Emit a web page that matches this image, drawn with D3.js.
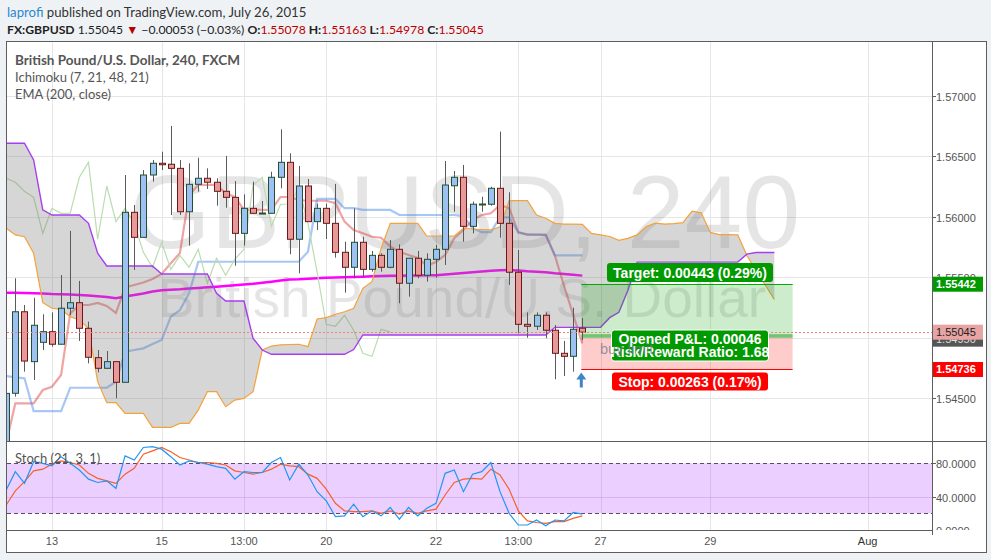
<!DOCTYPE html>
<html><head><meta charset="utf-8">
<script src="https://cdn.jsdelivr.net/npm/d3@7"></script>
<style>body{margin:0;background:#eff2f5;}svg{display:block}</style>
</head><body><svg id="c" width="991" height="560"></svg>
<script>
// ---------- DATA ----------
const opens=[1.54110,1.54539,1.55214,1.54801,1.54961,1.55049,1.54945,1.55243,1.55289,1.55077,1.54834,1.54746,1.54801,1.54630,1.56037,1.55830,1.56346,1.56443,1.56435,1.56401,1.56042,1.56269,1.56319,1.56286,1.56211,1.56161,1.55863,1.56070,1.56027,1.56029,1.56327,1.56451,1.55814,1.56255,1.55960,1.56070,1.55946,1.55706,1.55582,1.55789,1.55565,1.55681,1.55582,1.55731,1.55450,1.55657,1.55516,1.55648,1.55731,1.56257,1.56327,1.55921,1.56102,1.56104,1.56236,1.55946,1.55541,1.55110,1.55094,1.55185,1.55061,1.54870,1.54845,1.55078];
const highs=[1.54538,1.55491,1.55270,1.55330,1.55193,1.55209,1.55518,1.55883,1.55469,1.55132,1.54897,1.54889,1.54801,1.56346,1.56098,1.56387,1.56470,1.56539,1.56752,1.56470,1.56443,1.56489,1.56401,1.56319,1.56503,1.56296,1.56186,1.56291,1.56131,1.56373,1.56724,1.56526,1.56421,1.56313,1.56109,1.56109,1.56272,1.55794,1.56070,1.55835,1.55717,1.55698,1.55808,1.55772,1.55657,1.55717,1.55698,1.55767,1.56462,1.56379,1.56429,1.56125,1.56166,1.56249,1.56705,1.56203,1.55725,1.55209,1.55209,1.55209,1.55104,1.54972,1.55248,1.55163];
const lows=[1.54085,1.54511,1.54718,1.54649,1.54897,1.54925,1.54945,1.55187,1.54972,1.54787,1.54713,1.54746,1.54498,1.54630,1.55560,1.55830,1.56291,1.56387,1.56015,1.56015,1.55761,1.56208,1.56230,1.56092,1.56075,1.55595,1.55761,1.56029,1.56027,1.56029,1.56236,1.55690,1.55532,1.55960,1.55891,1.55816,1.55662,1.55372,1.55491,1.55502,1.55546,1.55546,1.55574,1.55284,1.55339,1.55491,1.55463,1.55496,1.55601,1.56042,1.55794,1.55863,1.56042,1.56092,1.55827,1.55436,1.55036,1.54999,1.55063,1.54994,1.54655,1.54682,1.54718,1.54978];
const closes=[1.54538,1.55214,1.54806,1.55102,1.55049,1.54945,1.55243,1.55289,1.55077,1.54837,1.54746,1.54801,1.54630,1.56037,1.55830,1.56346,1.56443,1.56431,1.56401,1.56042,1.56269,1.56319,1.56286,1.56211,1.56161,1.55863,1.56070,1.56029,1.56031,1.56327,1.56451,1.55814,1.56255,1.55960,1.56070,1.55946,1.55706,1.55582,1.55789,1.55565,1.55681,1.55582,1.55731,1.55450,1.55657,1.55516,1.55648,1.55731,1.56263,1.56327,1.55921,1.56104,1.56106,1.56236,1.55946,1.55541,1.55110,1.55094,1.55185,1.55061,1.54870,1.54845,1.55069,1.55045];
const conversionLine=[1.54127,1.54456,1.54456,1.54456,1.54566,1.54593,1.54690,1.55201,1.55270,1.55270,1.55287,1.55262,1.55204,1.55415,1.55435,1.55456,1.55485,1.55527,1.55615,1.55700,1.56181,1.56264,1.56264,1.56264,1.56195,1.56164,1.56057,1.56057,1.56057,1.56057,1.56164,1.56164,1.56139,1.56133,1.56133,1.56133,1.56112,1.55960,1.55891,1.55864,1.55835,1.55827,1.55753,1.55711,1.55684,1.55659,1.55595,1.55626,1.55684,1.55822,1.55891,1.55974,1.56015,1.56029,1.56098,1.56071,1.55871,1.55852,1.55852,1.55850,1.55680,1.55429,1.55190,1.54952];
const baseLine=[1.54682,1.54671,1.54663,1.54392,1.54392,1.54392,1.54392,1.54585,1.54585,1.54585,1.54585,1.54585,1.54635,1.54883,1.54897,1.54911,1.54947,1.54980,1.55173,1.55228,1.55367,1.55628,1.55628,1.55628,1.55628,1.55628,1.55628,1.55628,1.55628,1.55628,1.55628,1.55628,1.55628,1.55711,1.56148,1.56148,1.56148,1.56071,1.56071,1.56057,1.56057,1.56057,1.56057,1.56015,1.56015,1.56015,1.56015,1.56015,1.56015,1.56015,1.56004,1.55905,1.55873,1.55873,1.55995,1.55995,1.55871,1.55852,1.55852,1.55850,1.55680,1.55680,1.55680,1.55680];
const leadLineA=[1.55905,1.55850,1.55835,1.55698,1.55289,1.55243,1.55234,1.55173,1.55146,1.55077,1.54635,1.54461,1.54461,1.54373,1.54373,1.54373,1.54257,1.54257,1.54257,1.54290,1.54290,1.54400,1.54552,1.54552,1.54428,1.54483,1.54497,1.54552,1.54897,1.54930,1.54939,1.54943,1.54945,1.54925,1.55154,1.55165,1.55193,1.55214,1.55243,1.55408,1.55463,1.55739,1.55946,1.55946,1.55946,1.55946,1.55841,1.55841,1.55841,1.55841,1.55905,1.55899,1.55895,1.55891,1.55918,1.56134,1.56134,1.56134,1.56015,1.55988,1.55946,1.55940,1.55940,1.55938,1.55863,1.55850,1.55837,1.55805,1.55821,1.55850,1.55919,1.55948,1.55940,1.55944,1.55951,1.56047,1.56033,1.55871,1.55852,1.55852,1.55850,1.55680,1.55555,1.55435,1.55316];
const leadLineB=[1.56609,1.56609,1.56609,1.56471,1.56057,1.56015,1.56015,1.56015,1.56015,1.55946,1.55698,1.55593,1.55593,1.55593,1.55593,1.55593,1.55593,1.55527,1.55527,1.55527,1.55527,1.55527,1.55527,1.55367,1.55303,1.55303,1.55303,1.54994,1.54897,1.54862,1.54862,1.54862,1.54862,1.54862,1.54862,1.54862,1.54862,1.54862,1.54901,1.55022,1.55022,1.55022,1.55022,1.55022,1.55022,1.55022,1.55022,1.55022,1.55022,1.55022,1.55022,1.55022,1.55022,1.55022,1.55022,1.55022,1.55022,1.55022,1.55022,1.55022,1.55085,1.55085,1.55085,1.55085,1.55085,1.55085,1.55165,1.55210,1.55394,1.55625,1.55625,1.55625,1.55625,1.55625,1.55625,1.55625,1.55625,1.55625,1.55625,1.55625,1.55625,1.55691,1.55704,1.55704,1.55704];
const ema200=[1.55372,1.55371,1.55369,1.55368,1.55365,1.55361,1.55359,1.55356,1.55353,1.55349,1.55343,1.55336,1.55325,1.55340,1.55353,1.55365,1.55382,1.55392,1.55396,1.55400,1.55407,1.55411,1.55416,1.55421,1.55427,1.55433,1.55439,1.55445,1.55454,1.55463,1.55473,1.55481,1.55483,1.55487,1.55491,1.55496,1.55498,1.55500,1.55502,1.55504,1.55507,1.55510,1.55513,1.55513,1.55514,1.55515,1.55516,1.55516,1.55522,1.55528,1.55535,1.55541,1.55547,1.55553,1.55558,1.55560,1.55556,1.55550,1.55546,1.55541,1.55533,1.55527,1.55520,1.55513];
const stochK=[48,70,56,82,80,77,88,80,72,61,57,59,50,89,84,99,100,97,88,78,83,81,79,76,74,61,70,69,69,81,87,60,79,66,46,35,16,17,31,16,23,17,27,13,27,17,26,32,68,72,46,67,70,81,46,20,6,6,12,5,12,11,21,19];
const stochD=[30,47,58,71,73,79,83,81,78,68,62,59,56,67,74,91,95,99,94,87,84,81,81,80,78,71,69,67,69,73,79,77,76,67,62,49,32,23,22,22,23,20,23,19,23,20,23,25,42,57,61,62,61,73,66,49,23,11,9,8,10,10,14,17];
const laggingSpan=closes.slice(21); // close plotted 21 bars back
const priceTicks=[1.545,1.55,1.555,1.56,1.565,1.57];
const stochTicks=[0,40,80];
const timeLabels=["13","15","13:00","20","22","13:00","27","29","Aug"];
const timeBars=[5,17,26,35,47,56,65,77,94.2];
const position={startBar:63,endBar:86,entry:1.54999,target:1.55442,stop:1.54736,last:1.55045};

// ---------- SETUP ----------
const svg=d3.select('#c');
const FONT="Lato, 'Liberation Sans', sans-serif";
const AX="'Liberation Sans', Arial, sans-serif";
const x=d3.scaleLinear().domain([0,63]).range([6.2,582.3]);
const y=d3.scaleLinear().domain([1.545,1.57]).range([398,96]);
const ys=d3.scaleLinear().domain([0,80]).range([530,463.33]);
const L=7,R=932,T=42,MB=441,SB=530;

svg.append('rect').attr('width',991).attr('height',560).attr('fill','#eff2f5');
svg.append('rect').attr('x',6).attr('y',41).attr('width',981).attr('height',512).attr('fill','#fff');

const defs=svg.append('defs');
defs.append('clipPath').attr('id','mainClip').append('rect').attr('x',L).attr('y',T).attr('width',R-L).attr('height',MB-T);
defs.append('clipPath').attr('id','stClip').append('rect').attr('x',L).attr('y',MB+1).attr('width',R-L).attr('height',SB-MB-1);
defs.append('clipPath').attr('id','axClip').append('rect').attr('x',R).attr('y',T).attr('width',60).attr('height',SB-T);

// grid
const grid=svg.append('g');
grid.selectAll('line.v').data(timeBars).join('line').attr('x1',d=>Math.round(x(d))+0.5).attr('x2',d=>Math.round(x(d))+0.5).attr('y1',T).attr('y2',SB).attr('stroke','#e6e6e6');
grid.selectAll('line.h').data(priceTicks).join('line').attr('x1',L).attr('x2',R).attr('y1',d=>Math.round(y(d))+0.5).attr('y2',d=>Math.round(y(d))+0.5).attr('stroke','#e6e6e6');

const main=svg.append('g').attr('clip-path','url(#mainClip)');
// watermark
main.append('text').attr('x',465).attr('y',248).attr('text-anchor','middle').attr('font-family',AX).attr('font-size',104).attr('fill','rgba(0,0,0,0.1)').text('GBPUSD, 240');
main.append('text').attr('x',462).attr('y',317).attr('text-anchor','middle').attr('font-family',AX).attr('font-size',55).attr('fill','rgba(0,0,0,0.1)').text('British Pound/U.S. Dollar');

const line=(arr,off=0)=>d3.line().x((d,i)=>x(i+off)).y(d=>y(d))(arr);
main.append('path').attr('d',line(ema200)).attr('fill','none').attr('stroke','#f0f').attr('stroke-width',2.5);
main.append('path').attr('d',line(conversionLine)).attr('fill','none').attr('stroke','rgba(220,50,50,0.45)').attr('stroke-width',2.2);
main.append('path').attr('d',line(baseLine)).attr('fill','none').attr('stroke','rgba(60,130,235,0.45)').attr('stroke-width',2.2);
main.append('path').attr('d',line(laggingSpan)).attr('fill','none').attr('stroke','#b9ddaf').attr('stroke-width',1.2);
// cloud
const cloud=d3.area().x((d,i)=>x(i)).y0(d=>y(d[0])).y1(d=>y(d[1]));
main.append('path').attr('d',cloud(leadLineA.map((a,i)=>[a,leadLineB[i]]))).attr('fill','rgba(120,120,120,0.3)');
main.append('path').attr('d',line(leadLineA)).attr('fill','none').attr('stroke','#f4a23c').attr('stroke-width',1.2);
main.append('path').attr('d',line(leadLineB)).attr('fill','none').attr('stroke','#a53ff0').attr('stroke-width',1.4);

// position zones
const px0=x(position.startBar)-1, px1=x(position.endBar);
main.append('rect').attr('x',px0).attr('width',px1-px0).attr('y',y(position.target)).attr('height',y(position.entry)-y(position.target)).attr('fill','rgba(0,160,0,0.2)');
main.append('rect').attr('x',px0).attr('width',px1-px0).attr('y',y(position.entry)).attr('height',y(position.stop)-y(position.entry)).attr('fill','rgba(255,0,0,0.2)');
main.append('rect').attr('x',px0).attr('width',px1-px0).attr('y',y(position.last)+2).attr('height',y(position.entry)-y(position.last)-2).attr('fill','rgba(0,150,0,0.45)');
main.append('line').attr('x1',px0).attr('x2',px1).attr('y1',Math.round(y(position.target))+0.5).attr('y2',Math.round(y(position.target))+0.5).attr('stroke','#0a0');
main.append('line').attr('x1',px0).attr('x2',px1).attr('y1',Math.round(y(position.stop))+0.5).attr('y2',Math.round(y(position.stop))+0.5).attr('stroke','#f00');

// candles
const cg=main.append('g');
opens.forEach((o,i)=>{
  const c=closes[i],up=c>=o,cx=Math.round(x(i))+0.5;
  cg.append('line').attr('x1',cx).attr('x2',cx).attr('y1',y(highs[i])).attr('y2',y(lows[i])).attr('stroke','#5a5a5a');
  const t=y(Math.max(o,c)),b=y(Math.min(o,c));
  cg.append('rect').attr('x',cx-3).attr('width',6).attr('y',t).attr('height',Math.max(1,b-t))
    .attr('fill',up?'#9fc0f2':'#e69a99').attr('stroke',up?'#1f5133':'#6e1616').attr('stroke-width',1);
});
// current price line
main.append('line').attr('x1',L).attr('x2',R).attr('y1',Math.round(y(position.last))+0.5).attr('y2',Math.round(y(position.last))+0.5).attr('stroke','#f08080').attr('stroke-dasharray','2,2');
// arrow
const ax=x(position.startBar)-1;
main.append('path').attr('d',`M${ax},${y(position.stop)+3} l-5,7 h3.5 v8 h3 v-8 h3.5 z`).attr('fill','#3f85c8');

// position labels
function label(cx,cy,w,h,fill,lines,border){
  main.append('rect').attr('x',cx-w/2).attr('y',cy-h/2).attr('width',w).attr('height',h).attr('rx',3).attr('fill',fill).attr('stroke',border||'none');
  lines.forEach((s,k)=>main.append('text').attr('x',cx).attr('y',cy-(lines.length-1)*6.5+k*13+5).attr('text-anchor','middle').attr('font-family',AX).attr('font-weight','bold').attr('font-size',14).attr('fill','#fff').text(s));
}
label(690,272.5,166,19,'#009900',['Target: 0.00443 (0.29%)']);
label(690,345.5,157,31,'#009900',['Opened P&L: 0.00046','Risk/Reward Ratio: 1.68'],'#fff');
label(690,381.5,156,18,'#f00',['Stop: 0.00263 (0.17%)']);
main.append('text').attr('x',600).attr('y',354).attr('font-family',AX).attr('font-size',14.5).attr('fill','rgba(110,125,140,0.75)').text('buy limit');

// stoch pane
const st=svg.append('g').attr('clip-path','url(#stClip)');
st.append('rect').attr('x',L).attr('width',R-L).attr('y',ys(80)).attr('height',ys(20)-ys(80)).attr('fill','rgba(153,21,255,0.2)');
st.append('line').attr('x1',L).attr('x2',R).attr('y1',Math.round(ys(40))+0.5).attr('y2',Math.round(ys(40))+0.5).attr('stroke','rgba(150,80,200,0.22)');
[80,20].forEach(v=>st.append('line').attr('x1',L).attr('x2',R).attr('y1',Math.round(ys(v))+0.5).attr('y2',Math.round(ys(v))+0.5).attr('stroke','#5b4a6b').attr('stroke-dasharray','4,3'));
const sl=arr=>d3.line().x((d,i)=>x(i)).y(d=>ys(d))(arr);
st.append('path').attr('d',sl(stochD)).attr('fill','none').attr('stroke','#f4622a').attr('stroke-width',1.2);
st.append('path').attr('d',sl(stochK)).attr('fill','none').attr('stroke','#2196f3').attr('stroke-width',1.2);
svg.append('text').attr('x',15).attr('y',463).attr('font-family',FONT).attr('font-size',13).attr('fill','#555').text('Stoch (21, 3, 1)');

// frames
const fr=svg.append('g').attr('stroke','#5d5d5d').attr('fill','none');
fr.append('rect').attr('x',6.5).attr('y',41.5).attr('width',980).attr('height',511);
fr.append('line').attr('x1',6).attr('x2',987).attr('y1',441.5).attr('y2',441.5);
fr.append('line').attr('x1',6).attr('x2',R).attr('y1',530.5).attr('y2',530.5);
fr.append('line').attr('x1',R+0.5).attr('x2',R+0.5).attr('y1',41).attr('y2',535);

// price axis
const pa=svg.append('g').attr('clip-path','url(#axClip)');
priceTicks.forEach(p=>{
  const yy=Math.round(y(p))+0.5;
  pa.append('line').attr('x1',R).attr('x2',R+4).attr('y1',yy).attr('y2',yy).attr('stroke','#5d5d5d');
  pa.append('text').attr('x',936).attr('y',yy+4).attr('font-family',AX).attr('font-size',11).attr('fill','#555').text(d3.format('.5f')(p));
});
stochTicks.forEach(v=>{
  const yy=Math.round(ys(v))+0.5;
  pa.append('line').attr('x1',R).attr('x2',R+4).attr('y1',yy).attr('y2',yy).attr('stroke','#5d5d5d');
  pa.append('text').attr('x',936).attr('y',yy+4).attr('font-family',AX).attr('font-size',11).attr('fill','#555').text(d3.format('.4f')(v));
});
function plabel(yy,fill,tc,txt,bold){
  pa.append('rect').attr('x',R+1).attr('y',yy-7.5).attr('width',50).attr('height',15).attr('fill',fill);
  pa.append('text').attr('x',936).attr('y',yy+4).attr('font-family',AX).attr('font-size',11).attr('font-weight',bold?'bold':'normal').attr('fill',tc).text(txt);
}
plabel(y(position.last)+7,'#555','#ddd','1.54950');
plabel(y(position.last),'#e8a3a3','#222','1.55045');
plabel(y(position.target),'#009900','#fff','1.55442',true);
plabel(y(position.stop),'#f00','#fff','1.54736',true);

// time axis
timeLabels.forEach((t,k)=>{
  svg.append('text').attr('x',x(timeBars[k])).attr('y',545).attr('text-anchor','middle').attr('font-family',AX).attr('font-size',11).attr('fill',t==='Aug'?'#333':'#555').text(t);
});

// header
const h1=svg.append('text').attr('x',7).attr('y',17).attr('font-family',FONT).attr('font-size',13.2);
h1.append('tspan').attr('fill','#2a88d0').text('laprofi');
h1.append('tspan').attr('fill','#333').text(' published on TradingView.com, July 26, 2015');
const h2=svg.append('text').attr('x',7).attr('y',34).attr('font-family',FONT).attr('font-size',12.2).attr('fill','#222');
h2.append('tspan').attr('font-weight','bold').text('FX:GBPUSD');
h2.append('tspan').text(' 1.55045 ');
h2.append('tspan').attr('fill','#b00').text('▼');
h2.append('tspan').text(' −0.00053 (−0.03%) ');
[['O:','1.55078'],['H:','1.55163'],['L:','1.54978'],['C:','1.55045']].forEach(([a,b],k)=>{
  h2.append('tspan').attr('font-weight','bold').text((k?' ':'')+a);
  h2.append('tspan').attr('fill','#b00').text(b);
});
// legend
svg.append('text').attr('x',15).attr('y',65).attr('font-family',FONT).attr('font-size',13.5).attr('font-weight','bold').attr('fill','#555').text('British Pound/U.S. Dollar, 240, FXCM');
svg.append('text').attr('x',15).attr('y',82).attr('font-family',FONT).attr('font-size',13).attr('fill','#555').text('Ichimoku (7, 21, 48, 21)');
svg.append('text').attr('x',15).attr('y',99).attr('font-family',FONT).attr('font-size',13).attr('fill','#555').text('EMA (200, close)');
</script></body></html>
